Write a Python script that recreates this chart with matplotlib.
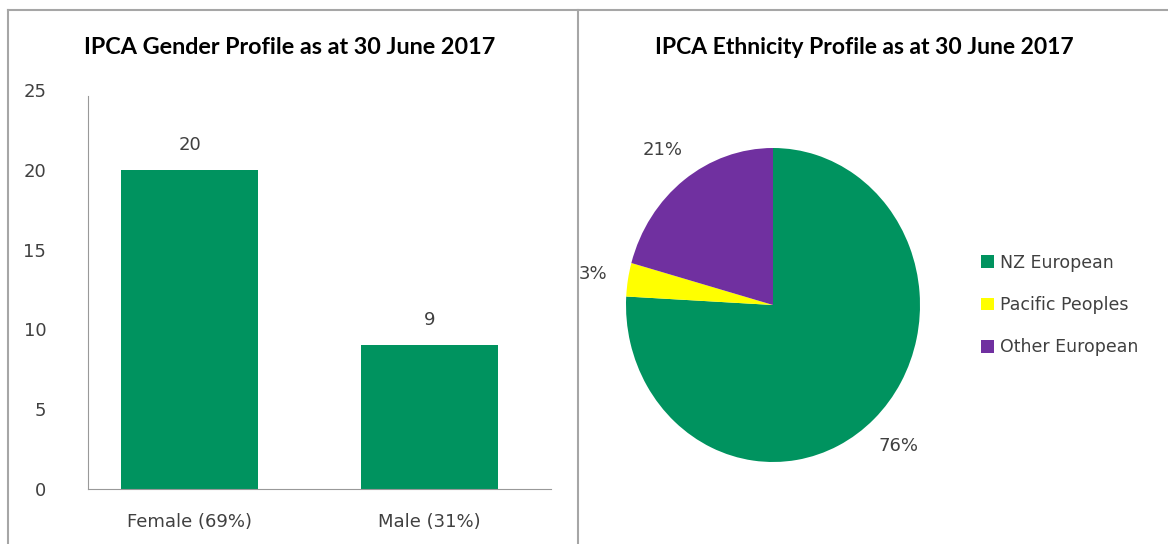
import matplotlib.pyplot as plt
from matplotlib.lines import Line2D

# gender bar chart
genders = ['Female (69%)', 'Male (31%)']
gender_counts = [20, 9]

# ethnicity pie
ethnicities = ['NZ European', 'Pacific Peoples', 'Other European']
ethnicity_counts = [22, 1, 6]

green = '#00935F'
pie_colors = [green, '#FFFF00', '#7030A0']
txt = '#404040'
body_font = ['DejaVu Sans']
title_font = ['Lato', 'DejaVu Sans']

fig = plt.figure(figsize=(11.68, 5.44), dpi=100)
W, H = 1168, 544

def fx(px):
    return px / W

def fy(py):
    return 1 - py / H

# panel borders
grey = '#a6a6a6'
fig.add_artist(Line2D([fx(8), 1], [fy(10), fy(10)], color=grey, lw=1.5))
fig.add_artist(Line2D([fx(8), fx(8)], [0, fy(10)], color=grey, lw=1.5))
fig.add_artist(Line2D([fx(578), fx(578)], [0, fy(10)], color=grey, lw=1.5))

# ---- bar chart ----
ax = fig.add_axes([fx(88), fy(489), fx(551) - fx(88), fy(90) - fy(489)])
x = list(range(len(genders)))
bars = ax.bar(x, gender_counts, width=0.57, color=green)
ax.set_xlim(-0.423, 1.506)
ax.set_ylim(0, 25)
ax.set_yticks([0, 5, 10, 15, 20, 25])
ax.set_xticks(x)
ax.set_xticklabels(genders)
for s in ['top', 'right']:
    ax.spines[s].set_visible(False)
ax.spines['left'].set_color('#999999')
ax.spines['bottom'].set_color('#999999')
ax.spines['left'].set_bounds(0, 24.6)
ax.tick_params(length=0, labelsize=13, colors=txt)
ax.tick_params(axis='x', pad=17)
ax.tick_params(axis='y', pad=30)
for lbl in ax.get_xticklabels() + ax.get_yticklabels():
    lbl.set_family(body_font)
for b, v in zip(bars, gender_counts):
    ax.text(b.get_x() + b.get_width() / 2, v + 1.0, str(v), ha='center',
            va='bottom', fontsize=13, color=txt, family=body_font)
fig.text(fx(290), fy(48), 'IPCA Gender Profile as at 30 June 2017',
         ha='center', va='center', fontsize=16.8, fontweight='bold',
         color='black', family=title_font)

# ---- pie chart ----
ax2 = fig.add_axes([fx(626), fy(462), fx(920) - fx(626), fy(148) - fy(462)])
wedges, texts, autotexts = ax2.pie(
    ethnicity_counts, colors=pie_colors, startangle=90, counterclock=False,
    autopct='%1.0f%%', pctdistance=1.24,
    wedgeprops=dict(linewidth=0),
    textprops=dict(fontsize=13, color=txt, family=body_font))
ax2.set_aspect('auto')
ax2.set_xlim(-1, 1)
ax2.set_ylim(-1, 1)
fig.text(fx(864), fy(48), 'IPCA Ethnicity Profile as at 30 June 2017',
         ha='center', va='center', fontsize=16.5, fontweight='bold',
         color='black', family=title_font)
fig.legend(wedges, ethnicities, loc='center left',
           bbox_to_anchor=(fx(965), fy(305)), frameon=False,
           prop=dict(family=body_font, size=12.5),
           labelcolor=txt, handlelength=0.75, handleheight=0.75,
           handletextpad=0.35, labelspacing=1.4)

fig.savefig('out.png', dpi=100)
